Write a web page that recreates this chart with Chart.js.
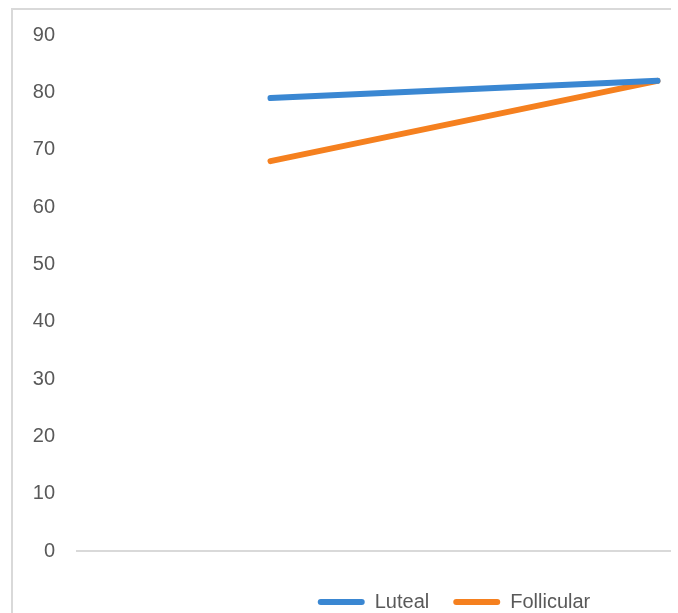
<!DOCTYPE html>
<html>
<head>
<meta charset="utf-8">
<script src="https://cdn.jsdelivr.net/npm/chart.js@4"></script>
<style>
  html, body { margin: 0; padding: 0; background: #fff; }
  /* the picture is a crop of a bigger chart: right and bottom are cut off */
  #clip { position: absolute; left: 0; top: 0; width: 671px; height: 613px; overflow: hidden; }
  #frame { position: absolute; left: 11px; top: 8px; border-left: 2px solid #d9d9d9; border-top: 2px solid #d9d9d9; }
  canvas { display: block; }
</style>
</head>
<body>
<div id="clip">
  <div id="frame">
    <canvas id="chart" width="882" height="640"></canvas>
  </div>
</div>
<script>
// --- data
const categories = ['', ''];
const luteal = [79, 82];
const follicular = [68, 82];
const yTicks = [0, 10, 20, 30, 40, 50, 60, 70, 80, 90];

const BLUE = '#3a87d2';
const ORANGE = '#f5801f';
const TEXT = '#595959';
const FONT = { family: '"Liberation Sans", Arial, sans-serif', size: 20 };

const ctx = document.getElementById('chart');

new Chart(ctx, {
  type: 'line',
  data: {
    labels: categories,
    datasets: [
      { label: 'Luteal', data: luteal, borderColor: BLUE, backgroundColor: BLUE },
      { label: 'Follicular', data: follicular, borderColor: ORANGE, backgroundColor: ORANGE }
    ]
  },
  options: {
    responsive: false,
    animation: false,
    devicePixelRatio: 1,
    elements: {
      line: { borderWidth: 6, borderCapStyle: 'round', borderJoinStyle: 'round', tension: 0 },
      point: { radius: 0, hoverRadius: 0 }
    },
    layout: { padding: { top: 25, right: 0, bottom: 28, left: 0 } },
    plugins: {
      tooltip: { enabled: false },
      legend: {
        position: 'bottom',
        labels: {
          font: FONT,
          color: TEXT,
          boxWidth: 47,
          boxHeight: 6,
          padding: 24,
          useBorderRadius: true,
          borderRadius: 3,
          generateLabels: (chart) => chart.data.datasets.map((d, i) => ({
            text: d.label,
            fillStyle: d.borderColor,
            strokeStyle: d.borderColor,
            lineWidth: 0,
            fontColor: TEXT,
            borderRadius: 3,
            datasetIndex: i
          }))
        }
      }
    },
    scales: {
      x: {
        offset: true,
        grid: { display: false, drawTicks: false },
        border: { display: true, color: '#d9d9d9', width: 2 },
        ticks: { display: false },
        afterFit: (scale) => {
          scale.height = 17;
          // empty margin right of the plot; legend stays centred on the whole chart
          scale.paddingRight = 44;
          scale.paddingLeft = 0;
        }
      },
      y: {
        min: 0,
        max: 90,
        afterBuildTicks: (scale) => { scale.ticks = yTicks.map(v => ({ value: v })); },
        grid: { display: false, drawTicks: false },
        border: { display: false },
        ticks: { color: TEXT, font: FONT, padding: 22 },
        afterFit: (scale) => {
          scale.width = 64;
          // tick padding should push labels left only, not down from the top
          scale.paddingTop = 12;
          scale.paddingBottom = 12;
        }
      }
    }
  }
});
</script>
</body>
</html>
